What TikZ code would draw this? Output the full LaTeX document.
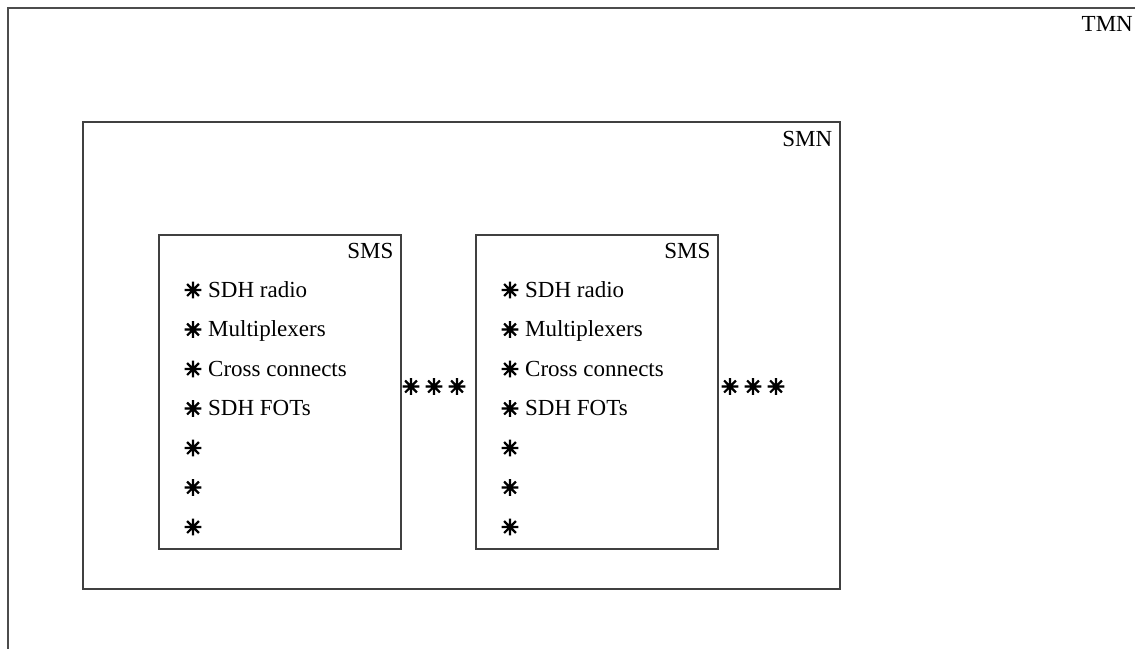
\documentclass[tikz,border=0pt]{standalone}
\usepackage{fontspec}
\setmainfont{Liberation Serif}
\newfontfamily\symfont[FakeBold=5]{DejaVu Sans}
\newcommand{\hast}{{\symfont ✳}}
\begin{document}
\begin{tikzpicture}[x=1pt,y=-1pt,
  frame/.style={draw=black!75,line width=1.5pt,inner sep=0pt,anchor=north west},
  outerframe/.style={draw=black!70,line width=2pt},
  tag/.style={inner sep=0pt,anchor=base east,font=\fontsize{23}{27}\selectfont},
  item/.style={inner sep=0pt,anchor=base west,font=\fontsize{23}{27}\selectfont},
  bullet/.style={inner sep=0pt,anchor=center,font=\fontsize{21.5}{25}\selectfont}]
\useasboundingbox (0,0) rectangle (1135,648);
\fill[white] (0,0) rectangle (1135,648);
\begin{scope}
\clip (0,0) rectangle (1135,648);
% TMN domain, running past the page edges
\draw[outerframe] (7.5,660) -- (7.5,7.5) -- (1150,7.5);
\end{scope}
\node[tag] (tmn) at (1133,31) {TMN};

% SMN
\node[frame,minimum width=757pt,minimum height=467pt] (smn) at (82,121) {};
\node[tag] (smnl) at ([xshift=-8pt,yshift=-25pt]smn.north east) {SMN};

% two SMS blocks with their equipment lists
\foreach \n/\x in {a/158,b/475}{
  \node[frame,minimum width=242pt,minimum height=314pt] (sms\n) at (\x,234) {};
  \node[tag] (sms\n l) at ([xshift=-8pt,yshift=-24pt]sms\n.north east) {SMS};
  \foreach \t [count=\i from 0] in {SDH radio,Multiplexers,Cross connects,SDH FOTs,{},{},{}}{
    \node[bullet] (sms\n b\i) at ([xshift=35pt,yshift={-56pt-39.5pt*\i}]sms\n.north west) {\hast};
    \ifx\t\empty\else
      \node[item] (sms\n i\i) at ([xshift=50pt,yshift={-63pt-39.5pt*\i}]sms\n.north west) {\t};
    \fi
  }
}

% further systems
\foreach \g/\x in {a/411,b/730}{
  \foreach \k in {0,1,2}{
    \node[bullet] (more\g\k) at (\x+23*\k,386.5) {\hast};
  }
}
\end{tikzpicture}
\end{document}
